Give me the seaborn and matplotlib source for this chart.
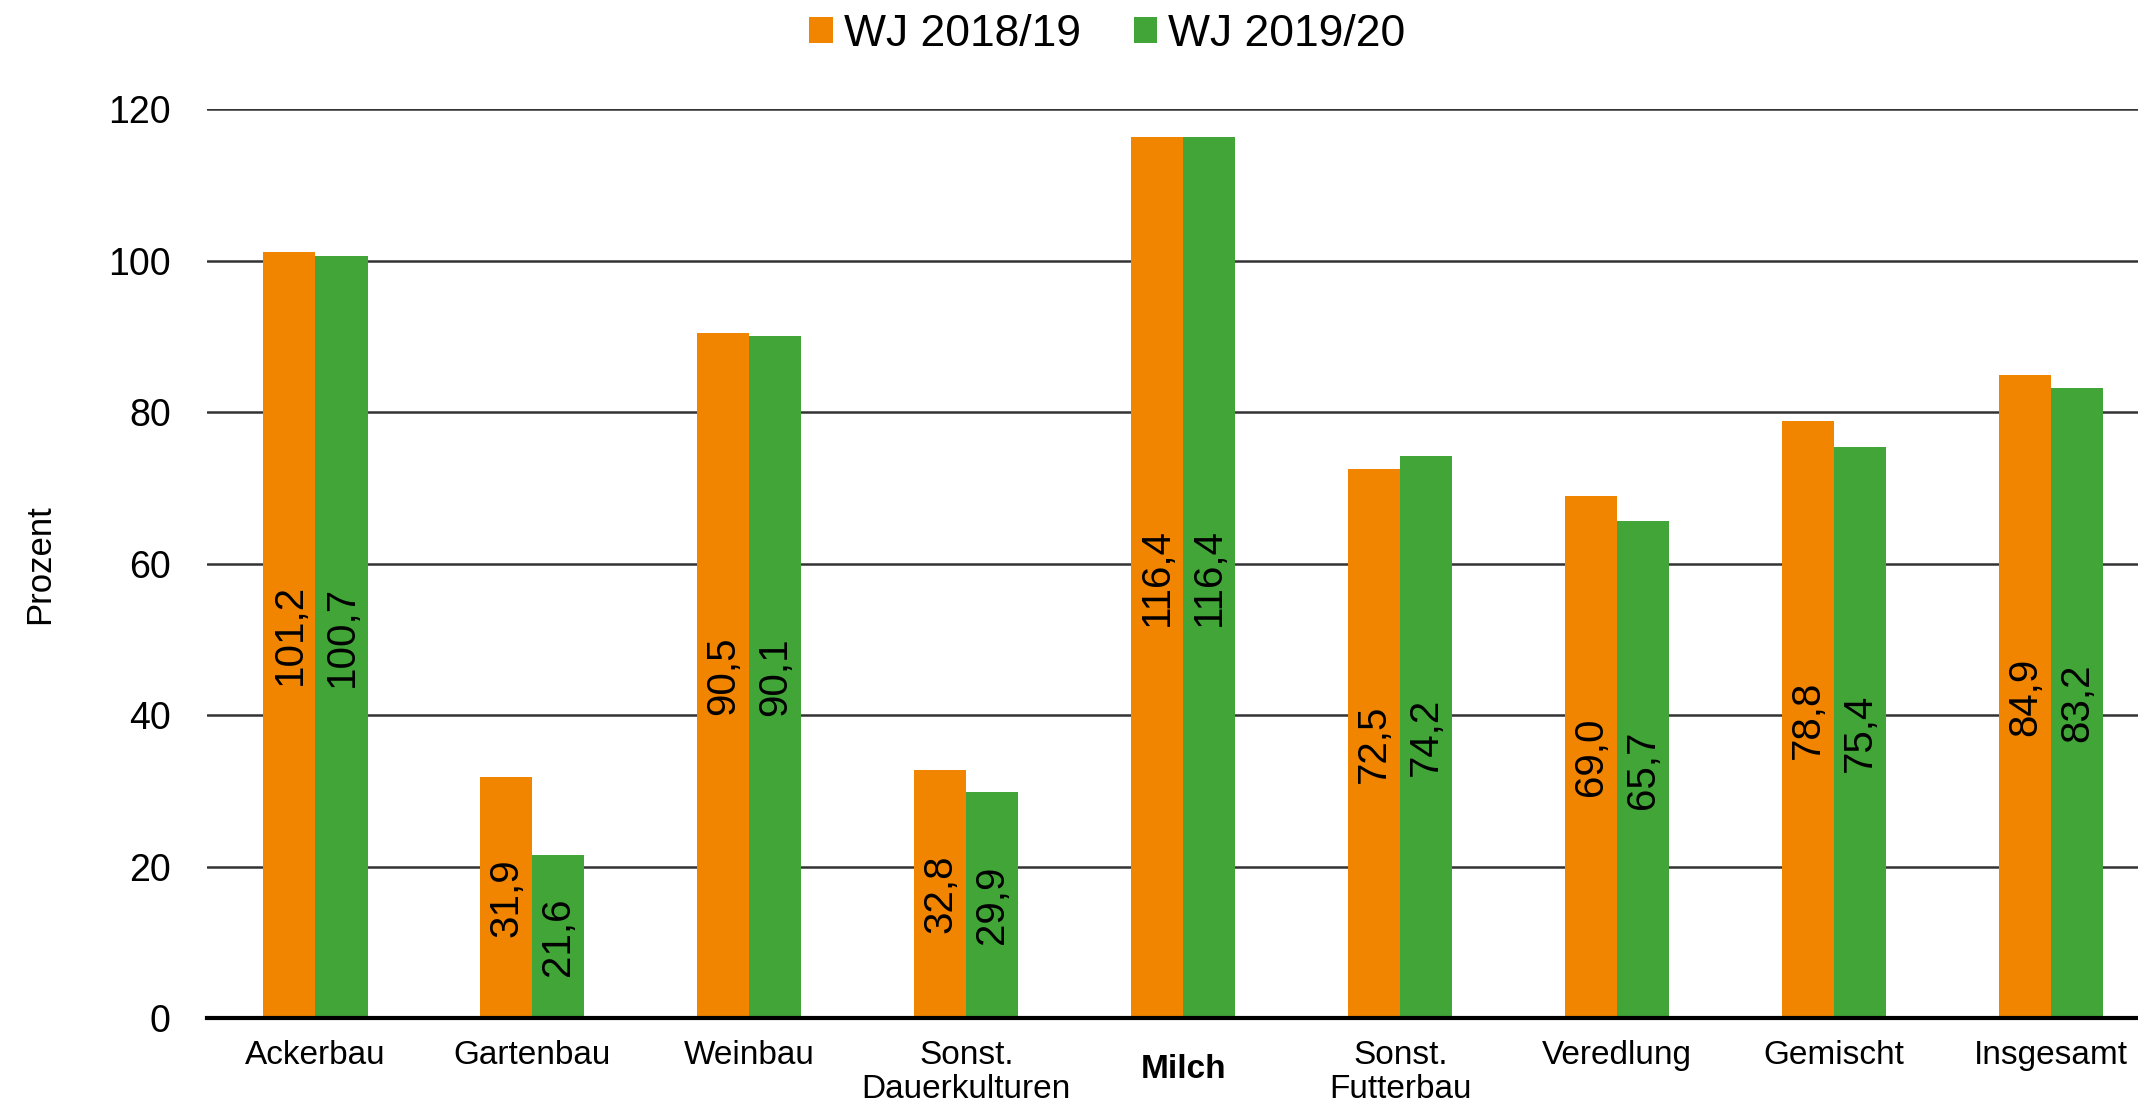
import matplotlib
matplotlib.use("Agg")
import matplotlib.pyplot as plt
import matplotlib.transforms as mtransforms
import seaborn as sns
import pandas as pd

categories = ["Ackerbau", "Gartenbau", "Weinbau", "Sonst.\nDauerkulturen", "Milch",
              "Sonst.\nFutterbau", "Veredlung", "Gemischt", "Insgesamt"]
series_names = ["WJ 2018/19", "WJ 2019/20"]
values_1819 = [101.2, 31.9, 90.5, 32.8, 116.4, 72.5, 69.0, 78.8, 84.9]
values_1920 = [100.7, 21.6, 90.1, 29.9, 116.4, 74.2, 65.7, 75.4, 83.2]
y_ticks = [0, 20, 40, 60, 80, 100, 120]
colors = ["#F28500", "#41A537"]

df = pd.DataFrame({
    "Kategorie": categories * 2,
    "Serie": [series_names[0]] * len(categories) + [series_names[1]] * len(categories),
    "Wert": values_1819 + values_1920,
})

sns.set_style("white")
plt.rcParams["font.family"] = ["Liberation Sans", "DejaVu Sans"]
plt.rcParams["text.color"] = "black"
plt.rcParams["xtick.color"] = "black"
plt.rcParams["ytick.color"] = "black"
plt.rcParams["axes.labelcolor"] = "black"

fig = plt.figure(figsize=(21.38, 11.09), dpi=100)
ax = fig.add_axes([0.0968, 0.082, 0.9032, 0.8193])

sns.barplot(data=df, x="Kategorie", y="Wert", hue="Serie", palette=colors,
            width=0.48, saturation=1, linewidth=0, ax=ax, legend=True)

for container, vals in zip(ax.containers, [values_1819, values_1920]):
    labels = [f"{v:.1f}".replace(".", ",") for v in vals]
    ax.bar_label(container, labels=labels, label_type="center", rotation=90,
                 fontsize=29, color="black")

ax.set_ylim(0, 120)
ax.set_xlim(-0.5, 8.4)
ax.set_yticks(y_ticks)
ax.set_yticklabels([str(t) for t in y_ticks], fontsize=27)
ax.yaxis.grid(True, color="#333333", linewidth=1.8)
ax.set_axisbelow(True)
for s in ["top", "right", "left"]:
    ax.spines[s].set_visible(False)
ax.spines["bottom"].set_color("black")
ax.spines["bottom"].set_linewidth(3)
ax.tick_params(axis="y", length=0, pad=26)
ax.tick_params(axis="x", length=0, pad=16, labelsize=24)
ax.set_xlabel("")
ax.set_ylabel("Prozent", fontsize=25)
ax.yaxis.set_label_coords(-0.078, 0.5)

for lbl in ax.get_xticklabels():
    lbl.set_linespacing(1.1)
    if lbl.get_text() == "Milch":
        lbl.set_fontweight("bold")
        lbl.set_transform(lbl.get_transform() +
                          mtransforms.ScaledTranslation(0, -0.14, fig.dpi_scale_trans))

leg = ax.get_legend()
handles, labels = ax.get_legend_handles_labels()
leg.remove()
fig.legend(handles, labels, loc="center", bbox_to_anchor=(0.518, 0.969), ncol=2,
           frameon=False, fontsize=32, handlelength=0.52, handleheight=0.52,
           handletextpad=0.25, columnspacing=1.2)

fig.savefig("out.png", dpi=100)
